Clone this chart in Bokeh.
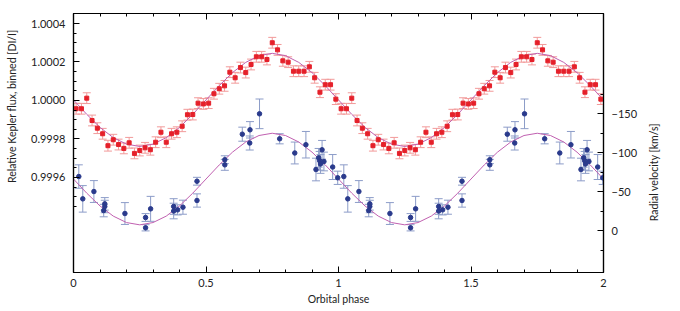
import numpy as np
from bokeh.plotting import figure
from bokeh.layouts import row
from bokeh.models import (Range1d, LinearAxis, FixedTicker, Whisker, ColumnDataSource,
                          TeeHead, NumeralTickFormatter, CustomLabelingPolicy, Label)
from bokeh.embed import file_html
from bokeh.resources import INLINE

# ---- data (one orbital cycle; plotted twice, phase 0-1 and 1-2) ----
flux_phase = [0.01, 0.03, 0.05, 0.07, 0.09, 0.11, 0.13, 0.15, 0.17, 0.19,
              0.21, 0.23, 0.25, 0.27, 0.29, 0.31, 0.33, 0.35, 0.37, 0.39,
              0.41, 0.43, 0.45, 0.47, 0.49, 0.51, 0.53, 0.55, 0.57, 0.59,
              0.61, 0.63, 0.65, 0.67, 0.69, 0.71, 0.73, 0.75, 0.77, 0.79,
              0.81, 0.83, 0.85, 0.87, 0.89, 0.91, 0.93, 0.95, 0.97, 0.99]
flux = [0.999957, 0.999957, 1.000012, 0.999896, 0.999856, 0.999827, 0.999765, 0.999796, 0.999771, 0.999751,
        0.999780, 0.999725, 0.999740, 0.999754, 0.999744, 0.999783, 0.999835, 0.999783, 0.999827, 0.999835,
        0.999866, 0.999926, 0.999927, 0.999986, 0.999982, 0.999986, 1.000035, 1.000061, 1.000076, 1.000147,
        1.000118, 1.000171, 1.000145, 1.000187, 1.000227, 1.000227, 1.000213, 1.000300, 1.000263, 1.000206,
        1.000199, 1.000152, 1.000152, 1.000152, 1.000175, 1.000118, 1.000043, 1.000082, 1.000082, 1.000007]
flux_err = [0.000028] * 50

rv_phase = [0.020, 0.035, 0.077, 0.114, 0.118, 0.118, 0.194, 0.272, 0.272, 0.291,
            0.378, 0.378, 0.393, 0.413, 0.466, 0.466, 0.571, 0.571, 0.637, 0.666,
            0.665, 0.702, 0.778, 0.835, 0.877, 0.915, 0.925, 0.929, 0.932, 0.938,
            0.945, 0.978, 0.997]
rv = [-69.2, -40.6, -50.0, -25.6, -34.2, -30.8, -21.8, -16.7, -3.5, -27.8,
      -30.8, -25.0, -26.5, -29.9, -63.2, -38.5, -90.8, -84.2, -123.5, -129.1,
      -112.2, -149.6, -117.6, -99.4, -110.0, -78.2, -93.2, -89.4, -85.3, -103.5,
      -88.5, -81.4, -67.6]
rv_err = [15, 17, 14, 8, 8, 8, 14, 5, 4, 16,
          10, 10, 6.5, 9, 5, 8.5, 5, 7, 9, 10.5,
          9, 19, 6.5, 14, 17, 14.5, 12, 12, 12, 12,
          12, 16, 8.5]

model_phase = [0.00, 0.05, 0.10, 0.15, 0.20, 0.25, 0.30, 0.35, 0.40, 0.45, 0.50,
               0.55, 0.60, 0.65, 0.70, 0.75, 0.80, 0.85, 0.90, 0.95, 1.00]
flux_model = [1.000003, 0.999928, 0.999860, 0.999807, 0.999773, 0.999761, 0.999773, 0.999807, 0.999860, 0.999928, 1.000003,
              1.000077, 1.000145, 1.000198, 1.000233, 1.000245, 1.000233, 1.000198, 1.000145, 1.000077, 1.000003]
rv_model = [-66.0, -47.9, -31.5, -18.5, -10.2, -7.3, -10.2, -18.5, -31.5, -47.9, -66.0,
            -84.1, -100.5, -113.5, -121.8, -124.7, -121.8, -113.5, -100.5, -84.1, -66.0]

x_major = [0, 0.5, 1, 1.5, 2]
x_labels = {0: "0", 0.5: "0.5", 1: "1", 1.5: "1.5", 2: "2"}
flux_major = [0.9996, 0.9998, 1.0, 1.0002, 1.0004]
rv_major = [-150, -100, -50, 0]
flux_title = "Relative Kepler flux, binned [DI/I]"
rv_title = "Radial velocity [km/s]"
phase_title = "Orbital phase"

FONT = "Lato"
RED = "#e5202a"
RED_ERR = "#f29a9a"
BLUE = "#2a3a8c"
BLUE_ERR = "#8c9cc8"
MODEL = "#c060b0"
TXT = "#222222"
H = 307


def two_cycles(ph):
    ph = np.asarray(ph, dtype=float)
    return np.concatenate([ph, ph + 1.0])


def twice(v):
    v = np.asarray(v, dtype=float)
    return np.concatenate([v, v])


fx = two_cycles(flux_phase)
fy = twice(flux)
fe = twice(flux_err)
rx = two_cycles(rv_phase)
ry = twice(rv)
re_ = twice(rv_err)
mx = np.concatenate([np.asarray(model_phase), np.asarray(model_phase[1:]) + 1.0])
mf = np.concatenate([np.asarray(flux_model), np.asarray(flux_model[1:])])
mr = np.concatenate([np.asarray(rv_model), np.asarray(rv_model[1:])])

p = figure(width=620, height=H, output_backend="svg", toolbar_location=None,
           x_range=Range1d(0, 2), y_range=Range1d(0.999106, 1.000452),
           min_border_left=53, min_border_right=37, min_border_top=13, min_border_bottom=35)
p.extra_y_ranges = {"rv": Range1d(53.8, -278.2)}
p.xgrid.visible = False
p.ygrid.visible = False
p.outline_line_color = "black"
p.outline_line_width = 1.2
p.background_fill_color = "white"
p.border_fill_color = "white"

# model curves
p.line(mx, mf, line_color=MODEL, line_width=1)
p.line(mx, mr, line_color=MODEL, line_width=1, y_range_name="rv")

# flux points with error bars
fsrc = ColumnDataSource(dict(x=fx, y=fy, lo=fy - fe, hi=fy + fe))
p.add_layout(Whisker(source=fsrc, base="x", upper="hi", lower="lo", line_color=RED_ERR, line_width=1,
                     upper_head=TeeHead(size=8, line_color=RED_ERR, line_width=1),
                     lower_head=TeeHead(size=8, line_color=RED_ERR, line_width=1)))
p.scatter("x", "y", source=fsrc, marker="square", size=4, fill_color=RED, line_color=RED)

# radial velocity points with error bars
rsrc = ColumnDataSource(dict(x=rx, y=ry, lo=ry - re_, hi=ry + re_))
p.add_layout(Whisker(source=rsrc, base="x", upper="hi", lower="lo", line_color=BLUE_ERR, line_width=1,
                     y_range_name="rv",
                     upper_head=TeeHead(size=8, line_color=BLUE_ERR, line_width=1),
                     lower_head=TeeHead(size=8, line_color=BLUE_ERR, line_width=1)))
p.scatter("x", "y", source=rsrc, marker="circle", size=4.5, fill_color=BLUE, line_color=BLUE,
          y_range_name="rv")


def style(ax):
    ax.axis_line_color = "black"
    ax.axis_line_width = 1.2
    ax.major_tick_line_color = "black"
    ax.minor_tick_line_color = "black"
    ax.major_tick_in = 6
    ax.major_tick_out = 0
    ax.minor_tick_in = 3
    ax.minor_tick_out = 0
    ax.major_label_text_font = FONT
    ax.major_label_text_font_size = "11px"
    ax.major_label_text_color = TXT
    ax.axis_label_text_font = FONT
    ax.axis_label_text_font_size = "10.5px"
    ax.axis_label_text_font_style = "normal"
    ax.axis_label_text_color = TXT


# bottom axis
xa = p.xaxis[0]
xa.ticker = FixedTicker(ticks=x_major, minor_ticks=[i / 10 for i in range(1, 20)])
xa.major_label_overrides = x_labels
xa.axis_label = phase_title
style(xa)
xa.major_label_standoff = 6
xa.axis_label_standoff = 3

# top axis (ticks only, no labels drawn)
ta = LinearAxis(ticker=FixedTicker(ticks=x_major, minor_ticks=[i / 10 for i in range(1, 20)]))
style(ta)
ta.major_label_text_font_size = "1px"
ta.major_label_standoff = 0
ta.major_label_policy = CustomLabelingPolicy(code="""
    const all = Array.from(indices)
    for (const i of all) indices.unset(i)
    return indices
""")
p.add_layout(ta, "above")

# left axis
ya = p.yaxis[0]
ya.ticker = FixedTicker(ticks=flux_major,
                        minor_ticks=[round(0.99945 + 0.00005 * i, 5) for i in range(21)])
ya.formatter = NumeralTickFormatter(format="0.0000")
style(ya)
ya.major_label_standoff = 8

# right axis
ra = LinearAxis(y_range_name="rv",
                ticker=FixedTicker(ticks=rv_major, minor_ticks=[-175, -125, -75, -25, 25]))
style(ra)
ra.major_label_standoff = 8
p.add_layout(ra, "right")


def title_strip(width, text, x, y_from_top):
    """Narrow blank panel holding a vertical axis title (reads bottom to top)."""
    s = figure(width=width, height=H, output_backend="svg", toolbar_location=None,
               x_range=Range1d(0, width), y_range=Range1d(H, 0),
               x_axis_type=None, y_axis_type=None,
               min_border_left=0, min_border_right=0, min_border_top=0, min_border_bottom=0)
    s.outline_line_color = None
    s.xgrid.visible = False
    s.ygrid.visible = False
    s.background_fill_color = "white"
    s.border_fill_color = "white"
    s.add_layout(Label(x=x, y=y_from_top, text=text, angle=np.pi / 2,
                       text_align="center", text_baseline="middle", text_font=FONT,
                       text_font_size="10.5px", text_color=TXT))
    return s


left_strip = title_strip(20, flux_title, 11, 110)
right_strip = title_strip(24, rv_title, 13, 188)

layout = row(left_strip, p, right_strip, spacing=0)
open("out.html", "w").write(file_html(layout, INLINE))
